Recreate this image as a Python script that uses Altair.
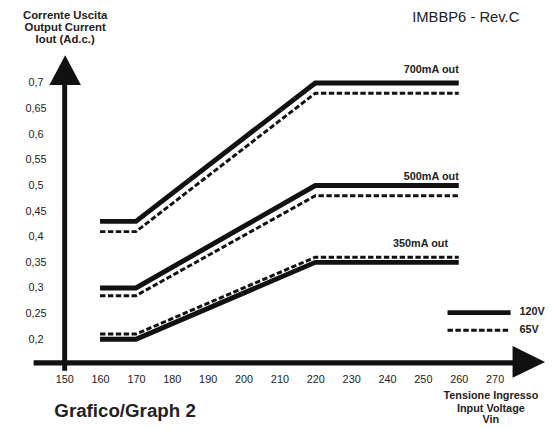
import altair as alt
import pandas as pd

# ---- data ----
vin = [160, 170, 220, 260]
series = ["700mA out", "500mA out", "350mA out"]
cur_120v_700 = [0.43, 0.43, 0.70, 0.70]
cur_65v_700 = [0.41, 0.41, 0.68, 0.68]
cur_120v_500 = [0.30, 0.30, 0.50, 0.50]
cur_65v_500 = [0.285, 0.285, 0.48, 0.48]
cur_120v_350 = [0.20, 0.20, 0.35, 0.35]
cur_65v_350 = [0.21, 0.21, 0.36, 0.36]

label_text = ["700mA out", "500mA out", "350mA out"]
label_x = [260, 260, 257]
label_y = [0.725, 0.516, 0.385]

x_ticks = [150, 160, 170, 180, 190, 200, 210, 220, 230, 240, 250, 260, 270]
y_ticks = [0.2, 0.25, 0.3, 0.35, 0.4, 0.45, 0.5, 0.55, 0.6, 0.65, 0.7]

legend_labels = ["120V", "65V"]

FONT = "Liberation Sans"
INK = "#111111"
TXT = "#222222"

rows = []
for name, c120, c65 in [
    ("700mA out", cur_120v_700, cur_65v_700),
    ("500mA out", cur_120v_500, cur_65v_500),
    ("350mA out", cur_120v_350, cur_65v_350),
]:
    for v, a, b in zip(vin, c120, c65):
        rows.append({"vin": v, "cur": a, "series": name, "supply": "120V"})
        rows.append({"vin": v, "cur": b, "series": name, "supply": "65V"})
df = pd.DataFrame(rows)
labels_df = pd.DataFrame({"vin": label_x, "cur": label_y, "text": label_text})
one = pd.DataFrame({"k": [0]})

W, H = 551, 421
xs = alt.Scale(domain=[134.341, 285.715], nice=False, zero=False)
ys = alt.Scale(domain=[0.030769, 0.840385], nice=False, zero=False)

xaxis = alt.Axis(values=x_ticks, offset=-64, domain=False, ticks=False, tickSize=0,
                 grid=False, labelPadding=17, labelBaseline="middle", labelFont=FONT,
                 labelFontSize=11, labelColor=TXT, title=None, labelFlush=False,
                 labelOverlap=False)
yaxis = alt.Axis(values=y_ticks, offset=-57, domain=False, ticks=False, tickSize=0,
                 grid=False, labelPadding=29, labelAlign="center", labelBaseline="middle",
                 labelFont=FONT, labelFontSize=11, labelColor=TXT, title=None,
                 labelFlush=False, labelOverlap=False,
                 labelExpr="replace(format(datum.value, '.2~f'), '.', ',')")

X = alt.X("vin:Q", scale=xs, axis=xaxis)
Y = alt.Y("cur:Q", scale=ys, axis=yaxis)

base = alt.Chart(df)
solid = base.transform_filter(alt.datum.supply == "120V").mark_line(
    color=INK, strokeWidth=5).encode(x=X, y=Y, detail="series:N")
dashed = base.transform_filter(alt.datum.supply == "65V").mark_line(
    color=INK, strokeWidth=3, strokeDash=[5.5, 2.5]).encode(x=X, y=Y, detail="series:N")

labels = alt.Chart(labels_df).mark_text(
    font=FONT, fontSize=11, fontWeight="bold", align="right", baseline="middle", color=TXT
).encode(x=X, y=Y, text="text:N")

# axis arrows
deco = alt.Chart(one)
y_rule = deco.mark_rule(color=INK, strokeWidth=5).encode(
    x=alt.value(57.5), y=alt.value(75), y2=alt.value(365))
x_rule = deco.mark_rule(color=INK, strokeWidth=5.5).encode(
    x=alt.value(26), x2=alt.value(514), y=alt.value(357))
y_head = deco.mark_point(shape="M -1 0.94 L 1 0.94 L 0 -0.94 Z", size=1024, filled=True,
                         color=INK, opacity=1, strokeWidth=0).encode(
    x=alt.value(58), y=alt.value(60))
x_head = deco.mark_point(shape="M -1 -0.97 L 1 0 L -1 0.97 Z", size=1089, filled=True,
                         color=INK, opacity=1, strokeWidth=0).encode(
    x=alt.value(528.5), y=alt.value(356))

# legend
leg_solid = deco.mark_rule(color=INK, strokeWidth=5).encode(
    x=alt.value(446), x2=alt.value(510), y=alt.value(306))
leg_dash = deco.mark_rule(color=INK, strokeWidth=3, strokeDash=[5.5, 2.5]).encode(
    x=alt.value(446), x2=alt.value(510), y=alt.value(324))
leg_t1 = deco.mark_text(text=legend_labels[0], font=FONT, fontSize=11, fontWeight="bold",
                        align="left", baseline="middle", color=TXT).encode(
    x=alt.value(519), y=alt.value(305))
leg_t2 = deco.mark_text(text=legend_labels[1], font=FONT, fontSize=11, fontWeight="bold",
                        align="left", baseline="middle", color=TXT).encode(
    x=alt.value(519), y=alt.value(324))


def txt(s, x, y, size, bold=True, align="center"):
    return deco.mark_text(text=s, font=FONT, fontSize=size,
                          fontWeight="bold" if bold else "normal",
                          align=align, baseline="middle", color=TXT).encode(
        x=alt.value(x), y=alt.value(y))


texts = [
    txt("Corrente Uscita", 58, 5, 11.5),
    txt("Output Current", 58, 17, 11.5),
    txt("Iout (Ad.c.)", 58, 29, 11.5),
    txt("IMBBP6 - Rev.C", 464.5, 6, 15, bold=False),
    txt("Grafico/Graph 2", 47, 406, 19, align="left"),
    txt("Tensione Ingresso", 490, 391, 11),
    txt("Input Voltage", 490, 403.5, 11),
    txt("Vin", 490, 415, 11),
]

chart = alt.layer(
    solid, dashed, labels, y_rule, x_rule, y_head, x_head,
    leg_solid, leg_dash, leg_t1, leg_t2, *texts
).properties(
    width=W, height=H, padding=0, autosize=alt.AutoSizeParams(type="none"),
    background="white"
).configure_view(strokeWidth=0)

chart.save("out.html", embed_options={"renderer": "svg", "actions": False})
